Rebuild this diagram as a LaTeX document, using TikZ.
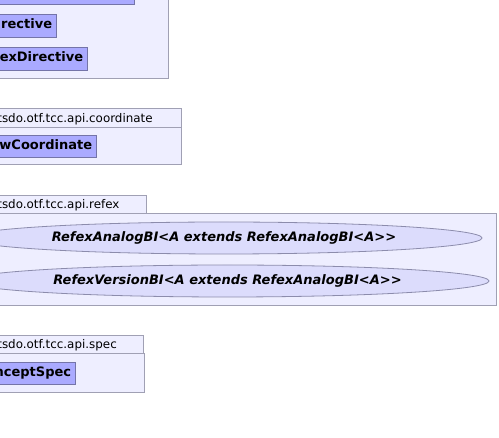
\documentclass[tikz,border=0pt]{standalone}
\usepackage{fontspec}
\setmainfont{DejaVu Sans}
\usetikzlibrary{shapes.geometric}

\definecolor{pkgfill}{HTML}{EEEEFF}
\definecolor{pkgline}{HTML}{A0A0B4}
\definecolor{boxfill}{HTML}{AAAAFF}
\definecolor{boxline}{HTML}{7474A8}
\definecolor{ellfill}{HTML}{DCDCFC}
\definecolor{ellline}{HTML}{8C8CAC}

\tikzset{
	pkgbody/.style={draw=pkgline, fill=pkgfill, line width=0.8pt},
	pkglabel/.style={anchor=base west, inner sep=0pt, font=\fontsize{11.9}{14}\selectfont},
	classbox/.style={draw=boxline, fill=boxfill, line width=0.8pt, anchor=east,
		inner xsep=4.5pt, inner ysep=0pt, text height=9.5pt, text depth=2.5pt,
		font=\fontsize{13}{15}\selectfont\bfseries},
	classell/.style={ellipse, draw=ellline, fill=ellfill, line width=0.8pt, inner sep=0pt,
		minimum height=32pt, font=\fontsize{13}{15}\selectfont\bfseries\itshape}
}

\begin{document}
\begin{tikzpicture}[x=1pt, y=-1pt]

	% ---- frame

	\useasboundingbox (0,0) rectangle (499,438);
	\clip (0,0) rectangle (499,438);

	\def\lx{-37}

	% ---- blueprint package

	\draw[pkgbody] (-20,-10) rectangle (168.5,78);
	\draw[classbox] (-20,-20) rectangle (134.7,4);
	\node[classbox, minimum height=23pt] (idDirective) at (57,25.5) {IdDirective};
	\node[classbox, minimum height=23pt] (refexDirective) at (88,58.5) {RefexDirective};

	% ---- coordinate package

	\draw[pkgbody] (-20,108.7) rectangle (181,127);
	\draw[pkgbody] (-20,127) rectangle (181,164);
	\node[pkglabel] (coordLabel) at (\lx,122.3) {org.ihtsdo.otf.tcc.api.coordinate};
	\node[classbox, minimum height=22pt] (viewCoordinate) at (97,146) {ViewCoordinate};

	% ---- refex package

	\draw[pkgbody] (-20,195) rectangle (146,213);
	\draw[pkgbody] (-20,213) rectangle (496,305);
	\node[pkglabel] (refexLabel) at (\lx,208.4) {org.ihtsdo.otf.tcc.api.refex};
	\node[classell, minimum width=516pt] (refexAnalog) at (224,238)
		{RefexAnalogBI<A extends RefexAnalogBI<A>{}>};
	\node[classell, minimum width=523pt] (refexVersion) at (227.5,281)
		{RefexVersionBI<A extends RefexAnalogBI<A>{}>};

	% ---- spec package

	\draw[pkgbody] (-20,335) rectangle (143,353);
	\draw[pkgbody] (-20,353) rectangle (144,392);
	\node[pkglabel] (specLabel) at (\lx,348.4) {org.ihtsdo.otf.tcc.api.spec};
	\node[classbox, minimum height=22pt] (conceptSpec) at (76,373) {ConceptSpec};

\end{tikzpicture}
\end{document}
